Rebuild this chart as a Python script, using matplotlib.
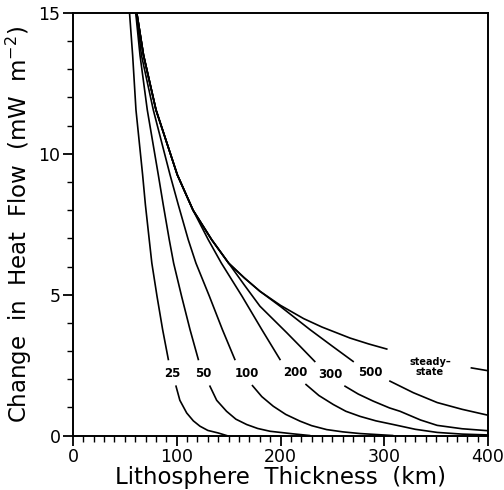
import numpy as np
import matplotlib.pyplot as plt
from matplotlib.ticker import MultipleLocator

nan = np.nan

# values: (thickness km, change in heat flow mW m-2)
# nan marks the break where the curve label sits
x_25 = [54.5, 57.5, 60.7, 67.1, 69.8, 73.5, 76.0, 81.0, 86.4, 91.9, nan,
        99.3, 103.0, 109.6, 116.0, 122.4, 130.0, 140.0, 148.0]
y_25 = [15.0, 13.5, 11.56, 9.26, 8.19, 6.95, 6.12, 4.94, 3.76, 2.70, nan,
        1.75, 1.25, 0.80, 0.52, 0.33, 0.18, 0.09, 0.0]

x_50 = [60.5, 64.6, 71.6, 82.2, 87.0, 92.8, 97.0, 104.7, 112.8, 120.8, nan,
        132.0, 138.5, 148.0, 157.0, 167.4, 178.0, 190.0, 212.0, 228.0]
y_50 = [15.0, 13.5, 11.56, 9.26, 8.19, 6.95, 6.12, 4.94, 3.76, 2.70, nan,
        1.75, 1.25, 0.86, 0.58, 0.39, 0.25, 0.15, 0.06, 0.0]

x_100 = [61.0, 66.0, 77.4, 93.5, 101.5, 111.1, 118.5, 131.5, 144.0, 156.0, nan,
         173.0, 182.0, 193.0, 205.0, 218.8, 230.0, 244.5, 260.0, 276.6, 308.0]
y_100 = [15.0, 13.5, 11.56, 9.26, 8.19, 6.95, 6.12, 4.94, 3.76, 2.70, nan,
         1.77, 1.38, 1.04, 0.75, 0.51, 0.35, 0.21, 0.13, 0.07, 0.0]

x_200 = [61.5, 68.0, 80.0, 100.5, 115.7, 130.4, 143.0, 163.0, 182.0, 199.5, nan,
         224.6, 237.0, 250.9, 263.0, 276.6, 292.0, 308.7, 330.0, 351.0, 375.0, 400.0]
y_200 = [15.0, 13.5, 11.56, 9.26, 8.0, 6.95, 6.12, 4.94, 3.76, 2.70, nan,
         1.81, 1.42, 1.10, 0.86, 0.68, 0.52, 0.39, 0.22, 0.11, 0.05, 0.02]

x_300 = [61.5, 68.0, 80.0, 100.5, 115.7, 133.7, 150.0, 165.0, 180.2, 206.0, 218.8, 233.0, nan,
         262.2, 275.0, 289.4, 305.0, 315.2, 335.0, 351.0, 375.0, 400.0]
y_300 = [15.0, 13.5, 11.56, 9.26, 8.0, 6.95, 6.12, 5.35, 4.59, 3.65, 3.17, 2.63, nan,
         1.75, 1.47, 1.22, 0.98, 0.86, 0.55, 0.36, 0.24, 0.17]

x_500 = [61.5, 68.0, 80.0, 100.5, 115.7, 133.7, 150.0, 165.0, 180.2, 200.0, 228.4, 250.0, 270.0, nan,
         305.5, 328.0, 351.0, 375.0, 400.0]
y_500 = [15.0, 13.5, 11.56, 9.26, 8.0, 6.95, 6.12, 5.60, 5.12, 4.58, 3.76, 3.17, 2.63, nan,
         1.93, 1.52, 1.17, 0.93, 0.72]

x_ss = [61.5, 68.0, 80.0, 100.5, 115.7, 133.7, 150.0, 165.0, 180.2, 200.0, 222.3, 240.0, 267.0, 285.0, 302.4, nan,
        384.0, 400.0]
y_ss = [15.0, 13.5, 11.56, 9.26, 8.0, 6.95, 6.12, 5.60, 5.12, 4.62, 4.15, 3.85, 3.46, 3.25, 3.07, nan,
        2.40, 2.30]

curves = [(x_25, y_25), (x_50, y_50), (x_100, y_100), (x_200, y_200),
          (x_300, y_300), (x_500, y_500), (x_ss, y_ss)]

# curve labels and where they sit
labels = ['25', '50', '100', '200', '300', '500']
label_x = [95.4, 126.0, 168.0, 214.0, 248.0, 286.7]
label_y = [2.2, 2.2, 2.2, 2.25, 2.15, 2.22]
ss_label = 'steady\u2013\nstate'
ss_pos = (344.0, 2.43)

fig = plt.figure(figsize=(5.04, 4.90), dpi=100)
ax = fig.add_axes([0.1448, 0.1112, 0.8235, 0.8623])

for xs, ys in curves:
    ax.plot(xs, ys, color='black', lw=1.2)

for lab, lx, ly in zip(labels, label_x, label_y):
    ax.text(lx, ly, lab, ha='center', va='center', fontsize=8.5, fontweight='bold')
ax.text(ss_pos[0], ss_pos[1], ss_label, ha='center', va='center', fontsize=7,
        fontweight='bold', linespacing=1.0)

ax.set_xlim(0, 400)
ax.set_ylim(0, 15)
ax.xaxis.set_major_locator(MultipleLocator(100))
ax.xaxis.set_minor_locator(MultipleLocator(10))
ax.yaxis.set_major_locator(MultipleLocator(5))
ax.yaxis.set_minor_locator(MultipleLocator(1))
ax.tick_params(which='major', direction='out', length=7, width=1.3, labelsize=12.5, pad=2)
ax.tick_params(which='minor', direction='out', length=4, width=1.0)
ax.tick_params(top=False, right=False)
for sp in ax.spines.values():
    sp.set_linewidth(1.4)

ax.set_xlabel('Lithosphere  Thickness  (km)', fontsize=16.5, labelpad=0)
ax.set_ylabel(r'Change  in  Heat  Flow  (mW  m$^{-2}$)', fontsize=16.5, labelpad=3)

fig.savefig('out.png', dpi=100)
